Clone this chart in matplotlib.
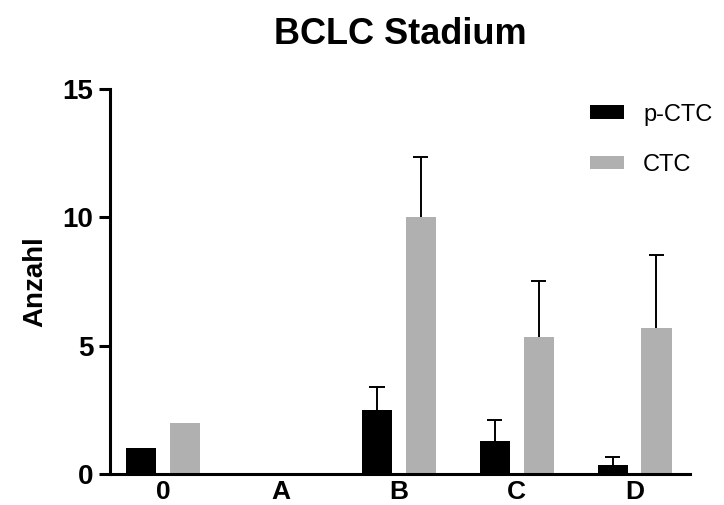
import numpy as np
import matplotlib.pyplot as plt

plt.rcParams['font.family'] = ['Liberation Sans', 'DejaVu Sans']

# Daten
stadien = ['0', 'A', 'B', 'C', 'D']
p_ctc = [1.0, 0.0, 2.5, 1.3, 0.35]
p_ctc_err = [0.0, 0.0, 0.88, 0.8, 0.33]
ctc = [2.0, 0.0, 10.0, 5.33, 5.67]
ctc_err = [0.0, 0.0, 2.35, 2.2, 2.85]
y_ticks = [0, 5, 10, 15]

fig = plt.figure(figsize=(7.24, 5.05), dpi=100)
ax = fig.add_axes([0.152, 0.0614, 0.801, 0.763])

x = np.arange(len(stadien))
breite = 0.255
versatz = 0.186
kappe = 0.065  # halbe Breite der Fehlerbalken-Kappe


def fehlerbalken(xs, werte, fehler):
    # nur nach oben, wie in Prism
    for xi, w, e in zip(xs, werte, fehler):
        if e > 0:
            ax.vlines(xi, w, w + e, color='black', lw=1.4, zorder=3)
            ax.hlines(w + e, xi - kappe, xi + kappe, color='black', lw=1.4, zorder=3)


ax.bar(x - versatz, p_ctc, breite, color='black', label='p-CTC', zorder=2)
ax.bar(x + versatz, ctc, breite, color='#b0b0b0', label='CTC', zorder=2)
fehlerbalken(x - versatz, p_ctc, p_ctc_err)
fehlerbalken(x + versatz, ctc, ctc_err)

ax.set_xlim(-0.45, 4.47)
ax.set_ylim(0, 15)
ax.set_yticks(y_ticks)
ax.set_xticks(x)
ax.set_xticklabels(stadien)

for s in ['top', 'right']:
    ax.spines[s].set_visible(False)
for s in ['left', 'bottom']:
    ax.spines[s].set_linewidth(2.2)

ax.tick_params(axis='y', length=8, width=2.2, labelsize=20, pad=4)
ax.tick_params(axis='x', length=0, labelsize=19, pad=4)
for lab in ax.get_xticklabels() + ax.get_yticklabels():
    lab.set_fontweight('bold')

ax.set_ylabel('Anzahl', fontsize=20, fontweight='bold', labelpad=10)
ax.set_title('BCLC Stadium', fontsize=26, fontweight='bold', pad=32)

ax.legend(loc='upper left', bbox_to_anchor=(0.815, 0.795),
          bbox_transform=fig.transFigure, frameon=False, borderpad=0,
          borderaxespad=0, fontsize=17, handlelength=1.45, handleheight=0.5,
          labelspacing=1.2, handletextpad=0.8)

fig.savefig('out.png', dpi=100)
